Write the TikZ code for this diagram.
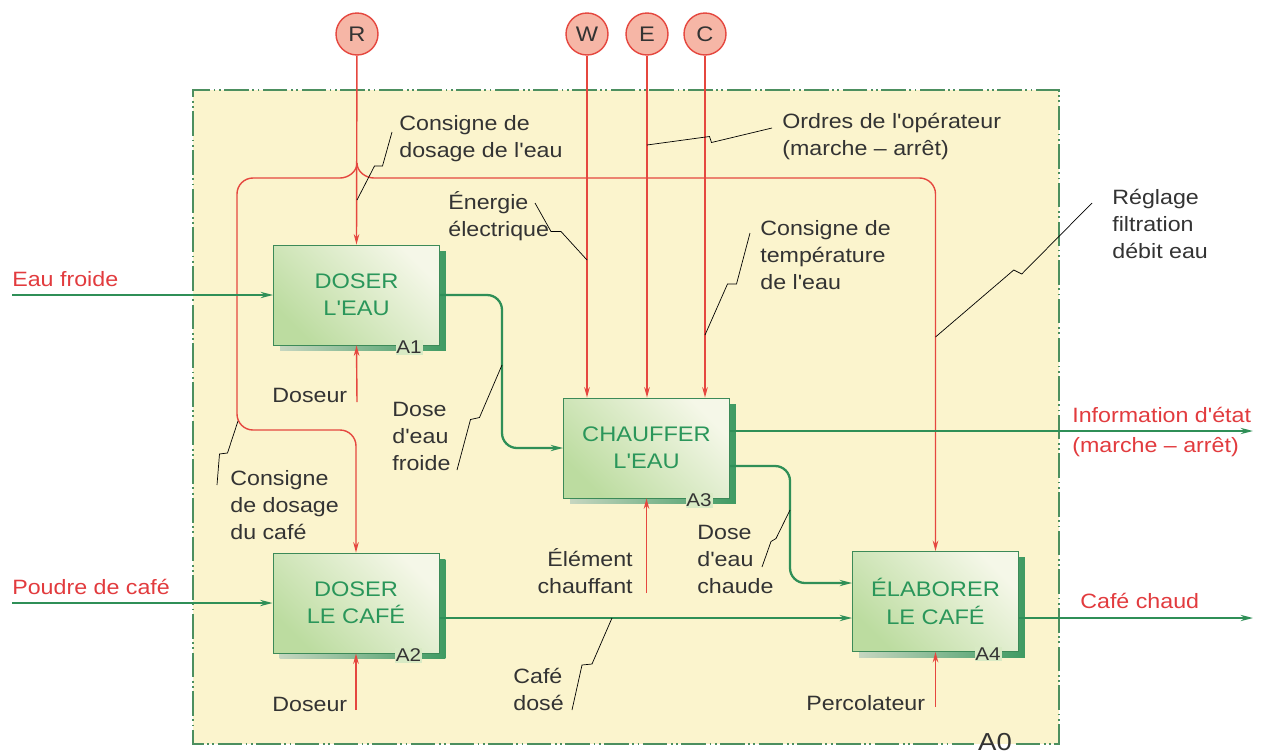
\documentclass[tikz,border=0pt]{standalone}
\usepackage{fontspec}
\setmainfont{Liberation Sans}[FakeStretch=1.12, Ligatures=TeXOff]
\usetikzlibrary{arrows.meta, positioning, calc, shadows}
\definecolor{bgyellow}{HTML}{FBF4CD}
\definecolor{framegreen}{HTML}{4C8F5F}
\definecolor{flowgreen}{HTML}{2F8F57}
\definecolor{ctrlred}{HTML}{E5473F}
\definecolor{tunfill}{HTML}{F6B6A6}
\definecolor{iored}{HTML}{E23B3E}
\definecolor{txtgray}{HTML}{333333}
\definecolor{boxgreen}{HTML}{BCDCA0}
\definecolor{boxwhite}{HTML}{F5F7E8}
\definecolor{boxedge}{HTML}{3C8A58}
\definecolor{boxtxt}{HTML}{2A965A}
\definecolor{shdark}{HTML}{3E9A62}
\definecolor{shlight}{HTML}{C6D6C0}
\colorlet{boxmid}{boxgreen!50!boxwhite}
\newcommand{\lblfont}{\fontsize{11.8}{15.3}\selectfont}

\begin{document}
\begin{tikzpicture}[x=0.02cm, y=-0.02cm,
  fct/.style={draw=boxedge, line width=0.5pt, top color=boxwhite, bottom color=boxgreen,
    shading angle=-45, minimum width=3.32cm, minimum height=2cm, align=center,
    text=boxtxt, font=\fontsize{12}{15.5}\selectfont,
    drop shadow={shadow xshift=0.13cm, shadow yshift=-0.12cm, left color=shlight,
      right color=shdark, opacity=1}},
  fctlab/.style={font=\fontsize{10.5}{12}\selectfont, text=txtgray, fill=boxmid, inner sep=0.5pt, anchor=east},
  tun/.style={circle, draw=ctrlred, line width=0.8pt, fill=tunfill, minimum size=0.84cm,
    inner sep=0pt, font=\fontsize{12}{14}\selectfont, text=txtgray},
  ctrl/.style={draw=ctrlred, line width=0.8pt, -{Stealth[length=6pt,width=3.2pt]}},
  flow/.style={draw=flowgreen, line width=1.3pt, -{Stealth[length=7pt,width=3.5pt]}},
  lbl/.style={font=\lblfont, text=txtgray, align=left, inner sep=0pt, anchor=north west},
  iolbl/.style={lbl, text=iored},
  squiggle/.style={draw=txtgray, line width=0.5pt,
    to path={-- ($(\tikztostart)!.5!(\tikztotarget)$) -- ++(#1) -- (\tikztotarget)}},
  frame/.style={draw=framegreen, line width=0.6pt,
    dash pattern=on 14pt off 2pt on 1pt off 2pt on 1pt off 2pt}]

  \fill[white] (0,0) rectangle (1271,754);
  \useasboundingbox (0,0) rectangle (1271,754);

  % A0 frame
  \fill[bgyellow] (193,90) rectangle (1059,744);
  \coordinate (fb) at (0,744);
  \node[font=\fontsize{14}{16}\selectfont, text=txtgray, inner sep=2pt] (a0) at (995,742) {A0};
  \draw[frame] (a0.east |- fb) -| (1059,90) -| (193,744) -- (a0.west |- fb);

  % activities
  \node[fct] (a1) at (356.5,295) {DOSER\\L'EAU};
  \node[fct] (a2) at (356,603) {DOSER\\LE CAFÉ};
  \node[fct] (a3) at (646.5,448) {CHAUFFER\\L'EAU};
  \node[fct] (a4) at (935.5,601.5) {ÉLABORER\\LE CAFÉ};
  \node[fctlab] (a1lab) at ($(a1.south east)+(-17,2)$) {A1};
  \node[fctlab] (a2lab) at ($(a2.south east)+(-17,2)$) {A2};
  \node[fctlab] (a3lab) at ($(a3.south east)+(-17,2)$) {A3};
  \node[fctlab] (a4lab) at ($(a4.south east)+(-17,2)$) {A4};

  % tunnels
  \node[tun] (R) at (357,34) {R};
  \node[tun] (W) at (587,34) {W};
  \node[tun] (E) at (647,34) {E};
  \node[tun] (C) at (705,34) {C};

  % controls
  \coordinate (rj) at (357,163);
  \draw[ctrl] (R) -- (a1.north);
  \draw[ctrl] (rj) .. controls (357,172) and (348,178) .. (340,178)
    [rounded corners=0.32cm] -- (237,178) -- (237,430) -| (a2.north);
  \draw[ctrl] (rj) .. controls (357,172) and (366,178) .. (374,178)
    [rounded corners=0.32cm] -| (a4.north);
  \draw[ctrl] (W) -- (W |- a3.north);
  \draw[ctrl] (E) -- (E |- a3.north);
  \draw[ctrl] (C) -- (C |- a3.north);

  % mechanisms
  \coordinate (m1) at (357,402);
  \coordinate (m2) at (356,710);
  \coordinate (m3) at (646.5,593);
  \coordinate (m4) at (935.5,707);
  \draw[ctrl] (m1) -- (a1.south);
  \draw[ctrl] (m2) -- (a2.south);
  \draw[ctrl] (m3) -- (a3.south);
  \draw[ctrl] (m4) -- (a4.south);

  % flows
  \coordinate (ef) at (12,295);
  \coordinate (pc) at (12,603);
  \coordinate (a4in1) at ($(a4.west)+(0,-18.5)$);
  \coordinate (a4in2) at ($(a4.west)+(0,16.5)$);
  \coordinate (info) at (1253,431);
  \coordinate (cafe) at (1253,618);
  \draw[flow] (ef) -- (a1.west);
  \draw[flow] (pc) -- (a2.west);
  \draw[flow, rounded corners=0.3cm] (a1.east) -- (502,295) |- (a3.west);
  \draw[flow, rounded corners=0.3cm] ($(a3.east)+(0,18)$) -- (790,466) |- (a4in1);
  \draw[flow] (a2.east |- a4in2) -- (a4in2);
  \draw[flow] (a3.east |- info) -- (info);
  \draw[flow] (a4.east |- cafe) -- (cafe);

  % labels
  \node[iolbl] (eaufr) at (12,271) {Eau froide};
  \node[iolbl] (poudre) at (12,579) {Poudre de café};
  \node[iolbl] (infoetat) at (1072,407) {Information d'état\\[1.7pt](marche – arrêt)};
  \node[iolbl] (cafechaud) at (1080,593) {Café chaud};
  \node[lbl] (cdeau) at (399,115) {Consigne de\\dosage de l'eau};
  \node[lbl] (ordres) at (782,113) {Ordres de l'opérateur\\(marche – arrêt)};
  \node[lbl] (energie) at (448,191) {Énergie\\électrique};
  \node[lbl] (ctemp) at (760,220) {Consigne de\\température\\de l'eau};
  \node[lbl] (reglage) at (1112,189) {Réglage\\filtration\\débit eau};
  \node[lbl] (doseur1) at (272,388) {Doseur};
  \node[lbl] (deaufr) at (392,402) {Dose\\d'eau\\froide};
  \node[lbl] (cdcafe) at (230,470) {Consigne\\de dosage\\du café};
  \node[lbl, align=right, anchor=north east] (element) at (633,548) {Élément\\chauffant};
  \node[lbl] (deauch) at (697,525) {Dose\\d'eau\\chaude};
  \node[lbl] (doseur2) at (272,697) {Doseur};
  \node[lbl] (cafedose) at (513,668) {Café\\dosé};
  \node[lbl] (percol) at (806,695) {Percolateur};

  % leaders
  \coordinate (l1s) at (357,200);   \coordinate (l1e) at (392,132);
  \coordinate (l2s) at (647,145);   \coordinate (l2e) at (772,128);
  \coordinate (l3s) at (587,260);   \coordinate (l3e) at (535,203);
  \coordinate (l4s) at (705,335);   \coordinate (l4e) at (750,233);
  \coordinate (l5s) at (935.5,337); \coordinate (l5e) at (1092,203);
  \coordinate (l6s) at (502,365);   \coordinate (l6e) at (457,470);
  \coordinate (l7s) at (790,510);   \coordinate (l7e) at (762,567);
  \coordinate (l8s) at (238,421);   \coordinate (l8e) at (217,485);
  \coordinate (l9s) at (612,618);   \coordinate (l9e) at (572,710);
  \draw (l1s) to[squiggle={8,0}] (l1e);
  \draw (l2s) to[squiggle={2,6}] (l2e);
  \draw (l3s) to[squiggle={-10,0}] (l3e);
  \draw (l4s) to[squiggle={9,0}] (l4e);
  \draw (l5s) to[squiggle={8,4}] (l5e);
  \draw (l6s) to[squiggle={-9,2}] (l6e);
  \draw (l7s) to[squiggle={-5,3}] (l7e);
  \draw (l8s) to[squiggle={-8,1}] (l8e);
  \draw (l9s) to[squiggle={-10,1}] (l9e);
\end{tikzpicture}
\end{document}
